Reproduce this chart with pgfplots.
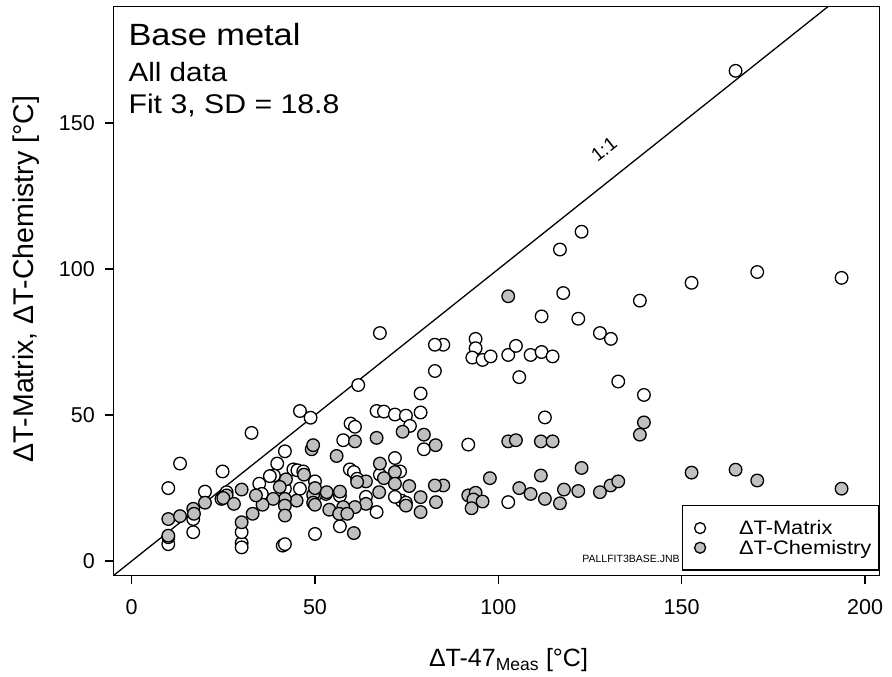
\documentclass[border=0pt]{standalone}
\usepackage{fontspec}
\setmainfont{Liberation Sans}
\newfontfamily\widefont{Liberation Sans}[FakeStretch=1.12]
\usepackage{pgfplots}
\usepackage{pgfplotstable}
\pgfplotsset{compat=1.18}
\definecolor{pgray}{RGB}{192,192,192}

\pgfplotstableread{
x y
164.7 167.9
152.7 95.3
170.6 99.0
193.6 97.0
138.6 89.2
139.7 56.9
122.7 112.8
116.8 106.7
117.7 91.8
111.8 83.8
121.8 83.0
127.7 78.1
130.7 76.1
85.0 74.1
82.7 74.1
93.8 76.1
93.8 72.9
92.9 69.7
95.7 68.9
97.9 70.1
102.7 70.6
104.8 73.7
108.8 70.6
111.8 71.6
114.8 70.1
105.7 63.0
132.7 61.5
112.7 49.2
91.8 39.9
102.7 20.2
82.7 65.1
67.7 78.1
61.8 60.3
78.8 57.4
45.9 51.4
48.8 49.1
66.8 51.4
68.8 51.2
71.8 50.2
74.8 49.8
78.8 50.9
75.9 46.3
59.7 47.1
60.9 46.0
57.7 41.4
79.7 38.3
41.8 37.6
71.8 35.3
59.5 31.4
60.6 30.5
66.8 16.8
56.8 11.9
50.0 9.3
41.2 5.3
41.8 5.8
73.6 20.7
74.8 20.0
32.7 43.9
13.2 33.4
10.0 25.0
24.8 30.7
20.0 23.8
34.8 26.5
39.7 33.4
44.1 31.4
45.2 31.1
46.8 30.7
50.0 27.3
38.8 29.3
10.0 5.8
10.0 8.2
16.8 9.9
16.8 14.4
30.0 6.2
30.0 9.9
30.0 4.7
25.9 23.6
24.5 21.3
73.2 30.7
67.7 29.6
53.0 23.0
45.9 24.8
56.8 22.4
63.9 22.0
35.5 23.0
41.8 24.8
50.0 22.4
61.5 28.2
71.8 22.0
37.7 29.1
}\matrixdata

\pgfplotstableread{
x y
102.7 90.7
139.7 47.5
138.6 43.3
102.7 41.0
104.8 41.4
111.6 41.0
114.8 41.0
97.7 28.4
111.6 29.3
122.7 31.9
85.0 25.9
91.8 22.5
93.8 23.4
93.2 21.1
95.7 20.4
92.7 18.1
105.7 25.0
108.8 23.0
112.7 21.3
116.8 19.8
117.9 24.5
121.8 24.0
127.7 23.6
130.6 25.9
132.7 27.3
152.7 30.3
164.7 31.3
170.6 27.6
193.6 24.8
73.9 44.3
79.7 43.3
82.9 39.7
75.7 25.7
82.7 25.9
78.8 21.9
83.0 20.2
74.8 19.0
78.8 16.8
66.8 42.2
60.9 41.0
49.1 38.3
49.5 39.7
55.9 36.0
67.7 33.4
71.8 30.5
68.8 28.4
71.8 26.5
63.9 27.3
61.5 27.1
67.5 23.6
63.9 19.6
60.9 18.5
57.7 18.5
56.8 23.8
53.2 23.6
53.9 17.6
49.5 22.7
49.5 20.0
45.0 20.7
47.0 29.6
42.1 28.0
40.4 25.4
41.8 21.3
41.8 19.0
41.8 15.6
60.6 9.6
56.6 16.2
58.8 16.2
38.6 21.3
35.7 19.3
50.0 25.0
10.0 14.4
10.0 8.7
13.2 15.4
16.8 17.9
17.0 16.2
20.0 20.0
25.9 22.5
25.0 21.6
27.9 19.6
30.0 24.5
30.0 13.3
33.0 16.2
33.9 22.5
50.0 19.3
}\chemdata

\begin{document}
\begin{tikzpicture}
\useasboundingbox (-113.3pt,-101.3pt) rectangle (778.7pt,575.7pt);
\begin{axis}[
  scale only axis,
  width=766.4pt, height=569.4pt,
  xmin=-5, xmax=204, ymin=-5, ymax=190,
  axis line style={line width=1.3pt},
  xtick={0,50,100,150,200}, ytick={0,50,100,150},
  tick align=outside, xtick pos=bottom, ytick pos=left,
  major tick length=8pt,
  tick style={line width=1.3pt, black},
  ticklabel style={font=\fontsize{21.5}{25}\selectfont},
  xticklabel style={yshift=-12pt},
  yticklabel style={xshift=-7pt},
  /pgf/number format/assume math mode=true,
  xlabel={ΔT-47\textsubscript{Meas} [°C]},
  ylabel={ΔT-Matrix, ΔT-Chemistry [°C]},
  xlabel style={font=\fontsize{25}{29}\selectfont, at={(axis description cs:0.5,0)}, anchor=base, yshift=-91pt, xshift=12pt},
  ylabel style={font=\fontsize{28.5}{32}\selectfont, at={(axis description cs:0,0.5)}, anchor=center, xshift=12pt, yshift=87pt},
  legend style={at={(1,0)}, anchor=south east, yshift=5pt,
    draw=black, line width=1.3pt,
    font=\widefont\fontsize{19.5}{22}\selectfont, row sep=0pt,
    inner xsep=0pt, inner ysep=12.5pt},
  legend cell align=left,
  legend image code/.code={\draw[#1, mark size=5.5pt] plot coordinates {(0pt,0pt)}; \path (-16.7pt,0pt) (36.3pt,0pt);},
]
\addplot[black, line width=1.3pt, forget plot] coordinates {(-5,-5) (190,190)};
\addplot[only marks, mark=*, mark size=6.3pt,
  mark options={fill=white, draw=black, line width=1.3pt}] table[x=x,y=y] {\matrixdata};
\addlegendentry{\makebox[138pt][l]{ΔT-Matrix}}
\addplot[only marks, mark=*, mark size=6.3pt,
  mark options={fill=pgray, draw=black, line width=1.3pt}] table[x=x,y=y] {\chemdata};
\addlegendentry{\makebox[138pt][l]{ΔT-Chemistry}}

\node[anchor=base west, inner sep=0, font=\widefont\fontsize{30.7}{34}\selectfont] at (axis cs:-0.9,176.6) {Base metal};
\node[anchor=base west, inner sep=0, font=\widefont\fontsize{26.5}{30}\selectfont] at (axis cs:-0.9,164.4) {All data};
\node[anchor=base west, inner sep=0, font=\widefont\fontsize{27}{30}\selectfont] at (axis cs:-0.9,153.3) {Fit 3, SD = 18.8};
\node[rotate=38.5, inner sep=0, font=\fontsize{19}{22}\selectfont] at (axis cs:128.8,141.0) {1:1};
\node[anchor=base east, inner sep=0, font=\fontsize{10.5}{12}\selectfont] at (axis cs:149.5,-0.6) {PALLFIT3BASE.JNB};
\end{axis}
\end{tikzpicture}
\end{document}
